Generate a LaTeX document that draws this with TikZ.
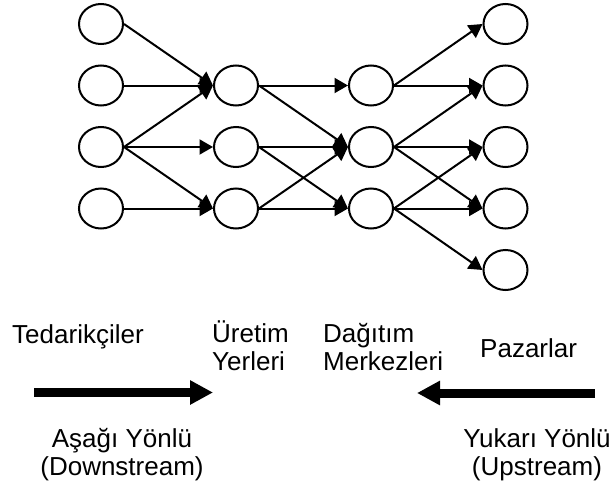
\documentclass[tikz,border=0pt]{standalone}
\usepackage{fontspec}
\setmainfont{Liberation Sans}
\usetikzlibrary{arrows.meta,shapes.geometric}

\begin{document}
\begin{tikzpicture}[x=1pt,y=-1pt,
  site/.style={draw, ellipse, line width=2pt, minimum width=44pt, minimum height=40pt, inner sep=0pt},
  flow/.style={line width=2pt, -{Triangle[length=13.5pt,width=15pt]}},
  bigarrow/.style={line width=9pt, -{Triangle[length=23pt,width=23pt]}},
  label/.style={inner sep=0pt, font=\fontsize{26}{28}\selectfont}]
\useasboundingbox (0,0) rectangle (611,490);

% suppliers
\node[site] (s1) at (101,24) {};
\node[site] (s2) at (101,85.5) {};
\node[site] (s3) at (101,147) {};
\node[site] (s4) at (101,208.5) {};
% production sites
\node[site] (p1) at (236,85.5) {};
\node[site] (p2) at (236,147) {};
\node[site] (p3) at (236,208.5) {};
% distribution centres
\node[site] (d1) at (371,85.5) {};
\node[site] (d2) at (371,147) {};
\node[site] (d3) at (371,208.5) {};
% markets
\node[site] (m1) at (505.5,24) {};
\node[site] (m2) at (505.5,85.5) {};
\node[site] (m3) at (505.5,147) {};
\node[site] (m4) at (505.5,208.5) {};
\node[site] (m5) at (505.5,270) {};

% suppliers -> production
\foreach \a/\b in {s1/p1, s2/p1, s3/p1, s3/p2, s3/p3, s4/p3}
  \draw[flow] (\a.east) -- (\b.west);
% production -> distribution
\foreach \a/\b in {p1/d1, p1/d2, p2/d2, p2/d3, p3/d2, p3/d3}
  \draw[flow] (\a.east) -- (\b.west);
% distribution -> markets
\foreach \a/\b in {d1/m1, d1/m2, d2/m2, d2/m3, d2/m4, d3/m3, d3/m4, d3/m5}
  \draw[flow] (\a.east) -- (\b.west);

% stage captions
\node[label, anchor=base west] (tTed) at (12,343) {Tedarikçiler};
\node[label, anchor=base west] (tUre) at (212,342) {Üretim};
\node[label, anchor=base west] (tYer) at (212,370) {Yerleri};
\node[label, anchor=base west] (tDag) at (323,342) {Dağıtım};
\node[label, anchor=base west] (tMer) at (323,370) {Merkezleri};
\node[label, anchor=base west] (tPaz) at (480,357) {Pazarlar};

% direction arrows
\coordinate (dsStart) at (34,392.5);
\coordinate (dsEnd) at (213,392.5);
\coordinate (usStart) at (595,393);
\coordinate (usEnd) at (417,393);
\draw[bigarrow] (dsStart) -- (dsEnd);
\draw[bigarrow] (usStart) -- (usEnd);

% direction captions
\node[label, anchor=base] (tAsa) at (122,447) {Aşağı Yönlü};
\node[label, anchor=base] (tDown) at (122,475) {(Downstream)};
\node[label, anchor=base] (tYuk) at (537,447) {Yukarı Yönlü};
\node[label, anchor=base] (tUp) at (537,475) {(Upstream)};
\end{tikzpicture}
\end{document}
